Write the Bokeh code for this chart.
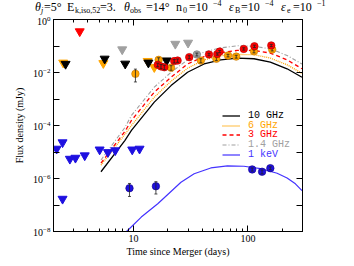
import numpy as np
from bokeh.plotting import figure
from bokeh.layouts import column
from bokeh.models import (LogAxis, FixedTicker, Legend, LegendItem, BasicTickFormatter, Div)
from bokeh.embed import file_html
from bokeh.resources import INLINE

# ---------------- data ----------------
# model light curves (days, mJy)
t_radio_model = [5.2, 8.4, 9.6, 15.2, 21.3, 29.7, 41.4, 57.8, 80.9, 113, 157, 220, 297]
f_10ghz_model = [1.8e-6, 2.7e-5, 6.5e-5, 7.6e-4, 3.2e-3, 1.02e-2, 2.1e-2, 3.0e-2, 3.5e-2, 3.3e-2, 2.45e-2, 1.38e-2, 6.6e-3]
f_6ghz_model = [3.2e-6, 4.6e-5, 1.0e-4, 1.17e-3, 4.7e-3, 1.45e-2, 3.0e-2, 4.3e-2, 4.8e-2, 4.7e-2, 3.5e-2, 1.95e-2, 9.3e-3]
f_3ghz_model = [3.8e-6, 5.9e-5, 1.55e-4, 1.82e-3, 6.6e-3, 2.1e-2, 4.0e-2, 5.6e-2, 6.8e-2, 6.8e-2, 5.4e-2, 3.0e-2, 1.38e-2]
f_1p4ghz_model = [5.0e-6, 8.3e-5, 2.4e-4, 2.8e-3, 1.02e-2, 3.0e-2, 5.9e-2, 8.5e-2, 0.102, 0.098, 0.078, 0.044, 0.021]
t_xray_model = [8.7, 11.7, 16.3, 26, 33.9, 47.4, 66.2, 92.3, 129, 180, 220, 260, 297]
f_xray_model = [1.0e-8, 3.5e-8, 1.12e-7, 7.2e-7, 1.51e-6, 2.5e-6, 3.0e-6, 2.9e-6, 2.35e-6, 1.58e-6, 1.05e-6, 6.3e-7, 3.5e-7]

# upper limits
t_ul_3ghz = [3.39]
f_ul_3ghz = [0.355]
t_ul_1p4ghz = [7.97, 23.2, 30.0]
f_ul_1p4ghz = [0.074, 0.12, 0.132]
t_ul_10ghz = [2.55, 5.6, 8.47, 13.5, 19.5]
f_ul_10ghz = [0.021, 0.033, 0.0214, 0.0234, 0.0282]
t_ul_6ghz = [2.43, 5.45, 13.3, 15.2]
f_ul_6ghz = [0.0234, 0.0224, 0.027, 0.0158]
t_ul_xray = [2.13, 2.4, 2.4, 2.78, 3.11, 3.75, 5.06, 5.98, 6.93, 9.75, 11.3]
f_ul_xray = [1.32e-5, 2.3e-5, 1.7e-7, 5.5e-6, 6.0e-6, 7.4e-6, 1.23e-5, 9.8e-6, 1.15e-5, 1.23e-5, 1.32e-5]

# detections
t_det_6ghz = [10.4, 16.6, 21.3, 38.8, 53, 67, 79, 113, 163]
f_det_6ghz = [8.9e-3, 0.030, 0.0151, 0.0282, 0.033, 0.0437, 0.0398, 0.063, 0.074]
e_det_6ghz = [4.5e-3, 6e-3, 3e-3, 5e-3, 5e-3, 5e-3, 5e-3, 8e-3, 9e-3]
t_det_3ghz = [16.3, 17.4, 18.6, 22.7, 24.3, 30.7, 45.7, 54, 56.7, 92, 114, 160]
f_det_3ghz = [0.0195, 0.017, 0.0158, 0.0269, 0.0282, 0.038, 0.0479, 0.050, 0.0617, 0.0776, 0.0977, 0.105]
e_det_3ghz = [3e-3, 3e-3, 3e-3, 4e-3, 4e-3, 5e-3, 5e-3, 5e-3, 6e-3, 8e-3, 1e-2, 1e-2]
t_det_1p4ghz = [35.8]
f_det_1p4ghz = [0.048]
e_det_1p4ghz = [6e-3]
t_det_xray = [9.23, 15.7, 109, 133, 157]
f_det_xray = [4.3e-7, 5.1e-7, 2.2e-6, 1.8e-6, 2.45e-6]
e_det_xray = [2.2e-7, 2.5e-7, 3e-7, 3e-7, 3e-7]

x_major = [10, 100]
x_minor = [2, 3, 4, 5, 6, 7, 8, 9, 20, 30, 40, 50, 60, 70, 80, 90, 200, 300]
y_major = [1e-8, 1e-6, 1e-4, 1e-2, 1e0]
y_minor = [1e-7, 1e-5, 1e-3, 1e-1]
y_all = [1e-8, 1e-7, 1e-6, 1e-5, 1e-4, 1e-3, 1e-2, 1e-1, 1e0]

legend_labels = ["10 GHz", "6 GHz", "3 GHz", "1.4 GHz", "1 keV"]

# title pieces: (text, kind, italic)
title_texts = [("θ", "main", True), ("j", "sub", True), ("=5°", "main", False),
               ("E", "main", False), ("k,iso,52", "sub", False), ("=3.", "main", False),
               ("θ", "main", True), ("obs", "sub", False), ("=14°", "main", False),
               ("n", "main", False), ("0", "sub", False), ("=10", "main", False),
               ("−4", "sup", False),
               ("ε", "main", True), ("B", "sub", False), ("=10", "main", False),
               ("−4", "sup", False),
               ("ε", "main", True), ("e", "sub", False), ("=10", "main", False),
               ("−1", "sup", False)]
title_x = [35, 41, 44, 67, 75, 100, 124, 130, 146, 176, 183, 189, 213,
           229, 235, 241, 265, 281, 287, 293, 317]

# ---------------- style ----------------
C_BLACK = "#000000"
C_ORANGE = "#FFA500"
C_RED = "#FF0000"
C_GRAY = "#A0A0A0"
C_BLUE = "#1E10E0"
C_BLUE_LINE = "#4433FF"
SERIF = "Liberation Serif"
MONO = "Liberation Mono"

W = 338
TH = 16                 # title strip height
H = 246                 # main figure height
BL, BT = 53, 3
FW, FH = 249, 212
BR, BB = W - BL - FW, H - BT - FH

# ---------------- title strip (HTML text, absolutely placed pieces) ----------------
top_px = {"main": 1, "sub": 6.8, "sup": 0}
size_px = {"main": 12, "sub": 8, "sup": 8}
spans = []
for (txt, kind, ital), xp in zip(title_texts, title_x):
    spans.append(
        f'<span style="position:absolute;left:{xp}px;top:{top_px[kind]}px;'
        f'font-size:{size_px[kind]}px;line-height:{size_px[kind]}px;'
        f'font-style:{"italic" if ital else "normal"};white-space:nowrap">{txt}</span>')
title_html = (f'<div style="position:relative;width:{W}px;height:{TH}px;'
              f'font-family:\'{SERIF}\';color:black;overflow:visible">' + "".join(spans) + '</div>')
title_div = Div(text=title_html, width=W, height=TH, margin=0)

# ---------------- main plot ----------------
p = figure(x_axis_type="log", y_axis_type="log", x_range=(2, 300), y_range=(1e-8, 1),
           width=W, height=H, min_border_left=BL, min_border_top=BT,
           min_border_right=BR, min_border_bottom=BB,
           output_backend="svg", toolbar_location=None)
p.xgrid.visible = False
p.ygrid.visible = False
p.outline_line_color = "black"
p.background_fill_color = "white"

def style_axis(ax):
    ax.major_tick_in = 6
    ax.major_tick_out = 0
    ax.minor_tick_in = 3
    ax.minor_tick_out = 0
    ax.axis_line_color = "black"
    ax.major_tick_line_color = "black"
    ax.minor_tick_line_color = "black"
    ax.major_label_text_font = SERIF
    ax.major_label_text_font_size = "10px"
    ax.major_label_text_color = "black"
    ax.axis_label_text_font = SERIF
    ax.axis_label_text_font_size = "10px"
    ax.axis_label_text_font_style = "normal"
    ax.axis_label_text_color = "black"

xa = p.xaxis[0]
style_axis(xa)
xa.ticker = FixedTicker(ticks=x_major, minor_ticks=x_minor)
xa.formatter = BasicTickFormatter()
xa.axis_label = "Time since Merger (days)"
xa.major_label_standoff = 3
xa.axis_label_standoff = 1

ya = p.yaxis[0]
style_axis(ya)
ya.ticker = FixedTicker(ticks=y_major, minor_ticks=y_minor)
ya.minor_tick_in = 6
ya.axis_label = "Flux density (mJy)"
ya.major_label_standoff = 3
ya.axis_label_standoff = 5

top = LogAxis(ticker=FixedTicker(ticks=x_major, minor_ticks=x_minor))
style_axis(top)
top.major_label_text_font_size = "1px"
top.major_label_text_alpha = 0
top.major_label_standoff = 0
p.add_layout(top, "above")

right = LogAxis(ticker=FixedTicker(ticks=y_all, minor_ticks=[]))
style_axis(right)
right.major_label_text_font_size = "1px"
right.major_label_text_alpha = 0
right.major_label_standoff = 0
p.add_layout(right, "right")

# models
r10 = p.line(t_radio_model, f_10ghz_model, color=C_BLACK, line_width=1.3)
r6 = p.line(t_radio_model, f_6ghz_model, color=C_ORANGE, line_width=1.3, line_dash="1 1")
r3 = p.line(t_radio_model, f_3ghz_model, color=C_RED, line_width=1.3, line_dash="4 3")
r14 = p.line(t_radio_model, f_1p4ghz_model, color=C_GRAY, line_width=1.1, line_dash="4 2 1 2")
rx = p.line(t_xray_model, f_xray_model, color=C_BLUE_LINE, line_width=1.2)

# upper limits
TRI = 9
p.scatter(t_ul_3ghz, f_ul_3ghz, marker="inverted_triangle", size=TRI, color=C_RED)
p.scatter(t_ul_1p4ghz, f_ul_1p4ghz, marker="inverted_triangle", size=TRI, color=C_GRAY)
p.scatter(t_ul_6ghz, f_ul_6ghz, marker="inverted_triangle", size=TRI, color=C_ORANGE)
p.scatter(t_ul_10ghz, f_ul_10ghz, marker="inverted_triangle", size=TRI, color=C_BLACK)
p.scatter(t_ul_xray, f_ul_xray, marker="inverted_triangle", size=TRI, color=C_BLUE)

# detections
def detections(t, f, e, fill, edge):
    t = np.array(t, float); f = np.array(f, float); e = np.array(e, float)
    p.scatter(t, f, marker="circle", size=7.5, fill_color=fill, line_color=edge, line_width=0.6)
    p.segment(t, f - e, t, f + e, line_color="#222222", line_width=0.8)
    p.scatter(np.concatenate([t, t]), np.concatenate([f - e, f + e]), marker="dash",
              size=3, line_color="#222222", line_width=0.8)

detections(t_det_6ghz, f_det_6ghz, e_det_6ghz, C_ORANGE, "#C07000")
detections(t_det_1p4ghz, f_det_1p4ghz, e_det_1p4ghz, C_GRAY, "#707070")
detections(t_det_3ghz, f_det_3ghz, e_det_3ghz, C_RED, "#B00000")
detections(t_det_xray, f_det_xray, e_det_xray, C_BLUE, "#100080")

# legend (one per row for coloured labels)
leg_rend = [r10, r6, r3, r14, rx]
leg_col = [C_BLACK, C_ORANGE, C_RED, C_GRAY, C_BLUE_LINE]
leg_y = [110, 100.5, 91, 81, 71.5]
for lab, ren, col, yy in zip(legend_labels, leg_rend, leg_col, leg_y):
    lg = Legend(items=[LegendItem(label=lab, renderers=[ren])], location=(169, yy),
                label_text_color=col, label_text_font=MONO, label_text_font_size="10px",
                glyph_width=18, glyph_height=9, label_height=9, label_standoff=8,
                padding=0, margin=0, spacing=0, border_line_alpha=0,
                background_fill_alpha=0)
    p.add_layout(lg)

layout = column(title_div, p, spacing=0)
open("out.html", "w").write(file_html(layout, INLINE))
